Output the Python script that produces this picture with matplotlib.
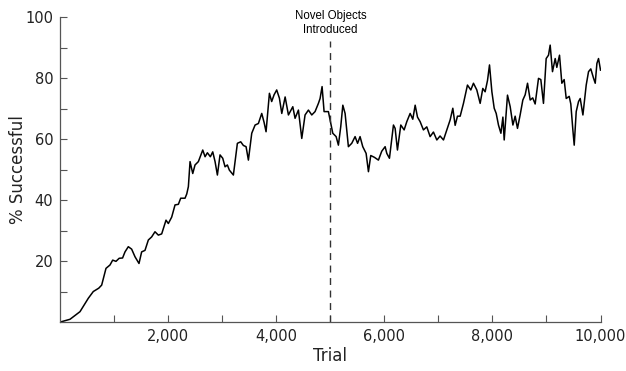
import matplotlib
matplotlib.use("Agg")
import matplotlib.pyplot as plt
from matplotlib.ticker import FixedLocator, FuncFormatter

# success rate over training trials (rows of ten, trials and values line up)
trials = [
    0, 180, 365, 519, 611, 712, 766, 846, 920, 970,
    1031, 1090, 1153, 1198, 1259, 1321, 1383, 1457, 1506, 1568,
    1630, 1691, 1753, 1815, 1877, 1957, 2000, 2062, 2124, 2186,
    2229, 2309, 2341, 2371, 2402, 2452, 2494, 2556, 2637, 2680,
    2723, 2778, 2822, 2865, 2908, 2957, 3007, 3050, 3093, 3130,
    3204, 3278, 3340, 3389, 3439, 3482, 3544, 3606, 3667, 3729,
    3772, 3809, 3871, 3913, 3957, 4006, 4056, 4100, 4162, 4223,
    4304, 4346, 4408, 4470, 4531, 4593, 4655, 4716, 4778, 4809,
    4846, 4883, 4963, 5007, 5044, 5106, 5148, 5191, 5230, 5272,
    5333, 5395, 5457, 5503, 5549, 5599, 5661, 5704, 5747, 5815,
    5889, 5950, 6013, 6044, 6093, 6167, 6198, 6241, 6303, 6365,
    6414, 6476, 6525, 6569, 6612, 6661, 6722, 6784, 6846, 6907,
    6970, 7030, 7093, 7155, 7217, 7266, 7309, 7352, 7402, 7463,
    7537, 7599, 7648, 7710, 7772, 7821, 7864, 7908, 7945, 7989,
    8032, 8069, 8111, 8156, 8193, 8217, 8278, 8328, 8378, 8420,
    8463, 8512, 8562, 8605, 8649, 8698, 8745, 8790, 8852, 8895,
    8944, 8994, 9037, 9068, 9111, 9161, 9191, 9241, 9284, 9327,
    9365, 9420, 9450, 9488, 9513, 9550, 9593, 9624, 9674, 9735,
    9778, 9820, 9870, 9902, 9933, 9963, 10000,
]
success = [
    0.0, 0.9, 3.4, 7.8, 10.0, 11.1, 12.1, 17.6, 18.7, 20.3,
    19.9, 20.9, 21.0, 23.0, 24.7, 23.9, 21.4, 19.2, 23.0, 23.5,
    26.9, 27.9, 29.6, 28.5, 28.9, 33.4, 32.3, 34.4, 38.4, 38.6,
    40.6, 40.6, 42.0, 44.4, 52.6, 48.7, 51.5, 52.6, 56.4, 54.2,
    55.5, 54.2, 55.8, 52.6, 48.2, 54.8, 53.7, 50.9, 51.5, 49.8,
    48.2, 58.6, 59.1, 57.9, 57.5, 53.1, 61.9, 64.6, 65.1, 68.4,
    65.5, 62.4, 75.0, 72.3, 74.5, 76.1, 73.4, 68.4, 73.8, 67.9,
    70.6, 66.8, 69.5, 60.2, 67.9, 69.5, 67.9, 69.0, 71.7, 73.3,
    77.2, 69.0, 69.0, 65.1, 61.9, 60.8, 58.0, 64.0, 71.1, 68.4,
    57.5, 58.6, 60.8, 58.6, 60.8, 57.5, 55.3, 49.3, 54.6, 54.0,
    53.1, 56.0, 57.5, 55.3, 53.7, 64.6, 63.5, 56.4, 64.6, 63.0,
    65.7, 68.4, 66.5, 71.1, 67.2, 65.7, 63.0, 64.0, 60.8, 62.3,
    59.7, 61.0, 59.7, 63.0, 66.3, 70.1, 64.5, 67.5, 67.5, 71.7,
    77.7, 76.1, 78.3, 76.1, 71.7, 76.6, 75.5, 79.2, 84.3, 75.5,
    70.1, 68.4, 64.6, 61.9, 67.2, 59.7, 74.4, 70.6, 64.6, 67.5,
    63.5, 67.9, 72.8, 74.5, 78.3, 72.8, 73.5, 71.5, 79.9, 79.5,
    71.7, 86.4, 87.5, 90.8, 82.1, 86.4, 83.5, 87.5, 78.3, 79.5,
    73.3, 74.0, 71.5, 63.0, 58.0, 69.0, 72.3, 73.3, 67.9, 77.7,
    82.1, 83.0, 80.0, 78.3, 84.8, 86.4, 82.6,
]

novel_trial = 5000
x_ticks = list(range(1000, 10001, 1000))
x_labels = [2000, 4000, 6000, 8000, 10000]
y_ticks = list(range(10, 101, 10))
y_labels = [20, 40, 60, 80, 100]

fig = plt.figure(figsize=(6.26, 3.71), dpi=100)
ax = fig.add_axes([0.0963, 0.132, 0.863, 0.822])

ax.plot(trials, success, color="black", linewidth=1.1)

# marker for when the novel objects were added
ax.plot([novel_trial, novel_trial], [0, 92], color="#333333",
        linestyle=(0, (5, 4)), linewidth=1.0)
ax.text(novel_trial, 102.4, "Novel Objects\nIntroduced", ha="center", va="top",
        fontsize=8.3, family="Liberation Sans", linespacing=1.25, clip_on=False)

ax.set_xlim(0, 10000)
ax.set_ylim(0, 100)

ax.xaxis.set_major_locator(FixedLocator(x_ticks))
ax.yaxis.set_major_locator(FixedLocator(y_ticks))
ax.xaxis.set_major_formatter(
    FuncFormatter(lambda v, p: f"{int(v):,}" if int(v) in x_labels else ""))
ax.yaxis.set_major_formatter(
    FuncFormatter(lambda v, p: f"{int(v)}" if int(v) in y_labels else ""))

ax.tick_params(direction="in", length=5, width=0.8, color="#555555",
               labelsize=10.5, labelcolor="#222222", pad=5)

for side in ("top", "right"):
    ax.spines[side].set_visible(False)
for side in ("left", "bottom"):
    ax.spines[side].set_color("#555555")
    ax.spines[side].set_linewidth(0.9)

ax.set_xlabel("Trial", fontsize=12, color="#222222", labelpad=2)
ax.set_ylabel("% Successful", fontsize=12, color="#222222", labelpad=-1)

fig.savefig("out.png", dpi=100)
